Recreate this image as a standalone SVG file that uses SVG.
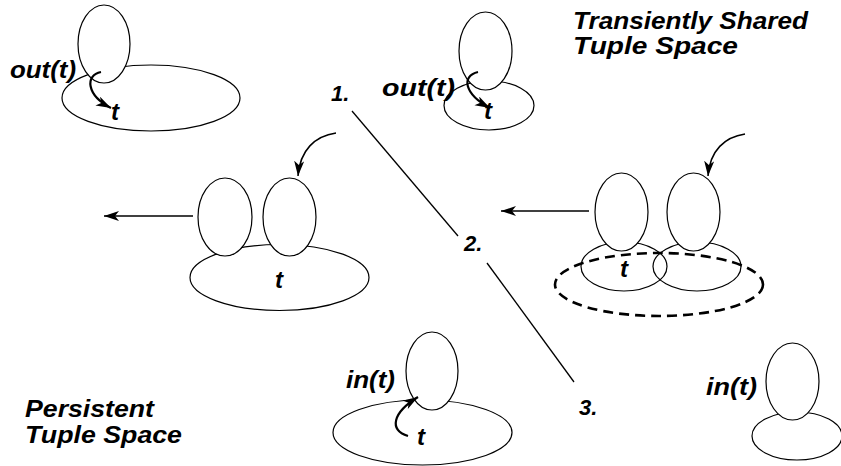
<svg xmlns="http://www.w3.org/2000/svg" width="841" height="466" viewBox="0 0 841 466">
<style>
.e{fill:#fff;stroke:#000;stroke-width:1.2}
.b{fill:none;stroke:#000;stroke-width:1.2}
.d{fill:none;stroke:#000;stroke-width:2.6;stroke-dasharray:10 6}
.t{font-family:"Liberation Sans",Arial,Helvetica,sans-serif;font-weight:bold;font-style:italic;fill:#000}
.a{fill:none;stroke:#000;stroke-width:1.5}
.a2{fill:none;stroke:#000;stroke-width:2.2}
.l{fill:none;stroke:#000;stroke-width:1.3}
</style>
<defs>
<marker id="ah" markerUnits="userSpaceOnUse" markerWidth="16" markerHeight="11" refX="15" refY="5" orient="auto">
<path d="M0,0 L15,5 L0,10 L4,5 Z" fill="#000"/>
</marker>
<marker id="ah2" markerUnits="userSpaceOnUse" markerWidth="16" markerHeight="11" refX="15" refY="5" orient="auto">
<path d="M0,0 L15,5 L0,10 L4,5 Z" fill="#000"/>
</marker>
</defs>

<g id="title-transient">
<text class="t" x="573" y="29" font-size="24" textLength="235" lengthAdjust="spacingAndGlyphs">Transiently Shared</text>
<text class="t" x="573" y="54" font-size="24" textLength="165" lengthAdjust="spacingAndGlyphs">Tuple Space</text>
</g>
<g id="title-persistent">
<text class="t" x="25" y="417" font-size="24" textLength="129" lengthAdjust="spacingAndGlyphs">Persistent</text>
<text class="t" x="25" y="443" font-size="24" textLength="157" lengthAdjust="spacingAndGlyphs">Tuple Space</text>
</g>

<g id="divider">
<line class="l" x1="352" y1="111" x2="458" y2="236"/>
<line class="l" x1="487" y1="263" x2="574" y2="382"/>
<text class="t" x="331" y="101" font-size="22">1.</text>
<text class="t" x="464" y="251" font-size="22">2.</text>
<text class="t" x="579" y="415" font-size="22">3.</text>
</g>

<g id="persistent-out">
<ellipse class="e" cx="151" cy="98" rx="89" ry="33"/>
<ellipse class="e" cx="104" cy="44" rx="26" ry="39"/>
<text class="t" x="10" y="78" font-size="24" textLength="66" lengthAdjust="spacingAndGlyphs">out(t)</text>
<text class="t" x="111" y="120" font-size="24">t</text>
</g>

<g id="transient-out">
<ellipse class="e" cx="489" cy="105.5" rx="45" ry="24.5"/>
<ellipse class="e" cx="485.5" cy="51" rx="26.5" ry="39"/>
<text class="t" x="382" y="96" font-size="24" textLength="73" lengthAdjust="spacingAndGlyphs">out(t)</text>
<text class="t" x="484" y="119" font-size="24">t</text>
</g>

<g id="persistent-share">
<ellipse class="e" cx="279.5" cy="277.5" rx="89.5" ry="33"/>
<ellipse class="e" cx="225" cy="217" rx="27" ry="39"/>
<ellipse class="e" cx="289.5" cy="217" rx="26.5" ry="39"/>
<text class="t" x="275" y="288" font-size="24">t</text>
</g>

<g id="transient-share">
<ellipse class="b" cx="624" cy="266.5" rx="43" ry="24.5"/>
<ellipse class="b" cx="697" cy="266.5" rx="44" ry="24.5"/>
<ellipse class="e" cx="621.5" cy="212" rx="26.5" ry="39"/>
<ellipse class="e" cx="693.5" cy="212" rx="26.5" ry="39"/>
<ellipse class="d" cx="659" cy="284.5" rx="104" ry="31.5"/>
<text class="t" x="620" y="277" font-size="24">t</text>
</g>

<g id="persistent-in">
<ellipse class="e" cx="422.5" cy="432.5" rx="89.5" ry="32.5"/>
<ellipse class="e" cx="432" cy="371" rx="26" ry="39"/>
<text class="t" x="346" y="388" font-size="24" textLength="49" lengthAdjust="spacingAndGlyphs">in(t)</text>
<text class="t" x="417" y="445" font-size="24">t</text>
</g>

<g id="transient-in">
<ellipse class="e" cx="797" cy="436" rx="45" ry="24"/>
<ellipse class="e" cx="792.5" cy="381.5" rx="26.5" ry="38.5"/>
<text class="t" x="706" y="395" font-size="24" textLength="51" lengthAdjust="spacingAndGlyphs">in(t)</text>
</g>

<g id="connectors">
<path class="a2" d="M101,72 C85,75 86,95 111,108" marker-end="url(#ah2)"/>
<path class="a2" d="M478,72 C461,76 464,94 490,108" marker-end="url(#ah2)"/>
<path class="a2" d="M408,436 C389,430 392,413 418,397" marker-end="url(#ah2)"/>
<path class="a" d="M336,133 C315,136 300,150 298,176" marker-end="url(#ah)"/>
<path class="a" d="M745,134 C725,137 710,150 708,176" marker-end="url(#ah)"/>
<line class="a" x1="193" y1="216" x2="104" y2="216" marker-end="url(#ah)"/>
<line class="a" x1="589" y1="211" x2="501" y2="211" marker-end="url(#ah)"/>
</g>
</svg>
